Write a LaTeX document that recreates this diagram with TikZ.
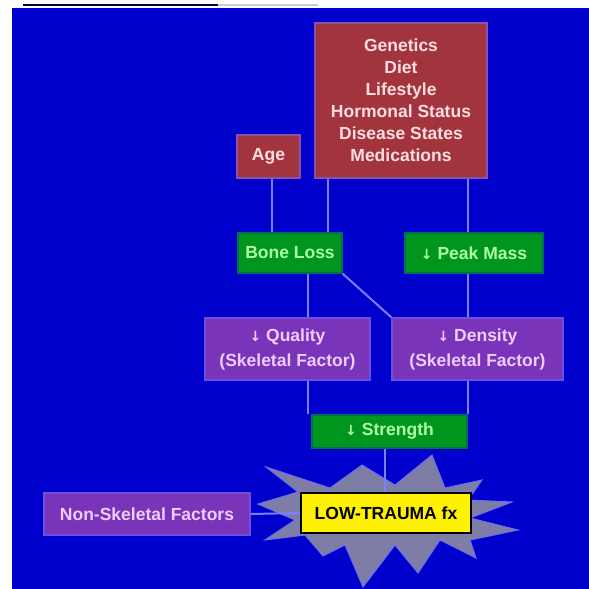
\documentclass[tikz,border=0pt]{standalone}
\usepackage{fontspec}
\setmainfont{Liberation Sans}
\newfontfamily\arrowfont{DejaVu Sans}
\usetikzlibrary{calc}
\definecolor{bgblue}{RGB}{0,0,204}
\definecolor{riskred}{RGB}{162,52,62}
\definecolor{riskedge}{RGB}{140,80,170}
\definecolor{risktext}{RGB}{255,222,225}
\definecolor{boxgreen}{RGB}{0,150,30}
\definecolor{greenedge}{RGB}{0,110,80}
\definecolor{greentext}{RGB}{175,255,165}
\definecolor{boxpurple}{RGB}{122,52,185}
\definecolor{purpleedge}{RGB}{105,80,225}
\definecolor{purpletext}{RGB}{238,205,255}
\definecolor{connblue}{RGB}{125,125,255}
\definecolor{stargray}{RGB}{125,125,165}
\definecolor{staredge}{RGB}{110,110,235}
\newcommand{\dn}{{\arrowfont\fontsize{14}{16}\selectfont ↓}}
\tikzset{
  base/.style={rectangle, inner sep=0pt, align=center, font=\bfseries\fontsize{17.5}{22}\selectfont},
  riskbox/.style={base, fill=riskred, draw=riskedge, line width=1.5pt, text=risktext},
  greenbox/.style={base, fill=boxgreen, draw=greenedge, line width=1.5pt, text=greentext},
  purplebox/.style={base, fill=boxpurple, draw=purpleedge, line width=1.5pt, text=purpletext},
  fxbox/.style={base, fill=yellow, draw=black, line width=2pt, text=black},
  conn/.style={draw=connblue, line width=2pt},
}
\begin{document}
\begin{tikzpicture}[x=1pt,y=-1pt]
\useasboundingbox (0,0) rectangle (589,589);
\fill[white] (0,0) rectangle (589,589);
\fill[bgblue] (12,8) rectangle (589,589);
\draw[black!70!blue, line width=2pt] (23,5) -- (218,5);
\draw[gray!40, line width=1.5pt] (218,5) -- (318,5);

% starburst
\filldraw[fill=stargray, draw=staredge, line width=1pt]
  (258,504) -- (298,492) -- (266,467) -- (330,488) -- (362,465) -- (395,485)
  -- (432,455) -- (445,488) -- (482,480) -- (468,500) -- (512,502) -- (470,518)
  -- (518,530) -- (470,540) -- (476,558) -- (440,540) -- (418,573) -- (395,545)
  -- (363,587) -- (345,545) -- (323,556) -- (305,535) -- (265,540) -- (295,520) -- cycle;

% nodes
\node[riskbox, minimum width=172pt, minimum height=155pt] (risk) at (401,100.5)
  {Genetics\\Diet\\Lifestyle\\Hormonal Status\\Disease States\\Medications};
\node[riskbox, minimum width=63pt, minimum height=43pt] (age) at (268.5,156.5) {Age};
\node[greenbox, minimum width=104pt, minimum height=40pt] (bone) at (290,253) {Bone Loss};
\node[greenbox, minimum width=138pt, minimum height=40pt] (peak) at (474,253) {\dn\ Peak Mass};
\node[purplebox, minimum width=165pt, minimum height=62pt, font=\bfseries\fontsize{17.5}{25}\selectfont] (quality) at (287.5,349)
  {\dn\ Quality\\(Skeletal Factor)};
\node[purplebox, minimum width=171pt, minimum height=62pt, font=\bfseries\fontsize{17.5}{25}\selectfont] (density) at (477.5,349)
  {\dn\ Density\\(Skeletal Factor)};
\node[greenbox, minimum width=155pt, minimum height=33pt] (strength) at (389.5,431.5) {\dn\ Strength};
\node[purplebox, minimum width=206pt, minimum height=42pt] (nonskel) at (147,514) {Non-Skeletal Factors};
\node[fxbox, minimum width=170pt, minimum height=40pt] (fx) at (386,513) {LOW-TRAUMA fx};

% helper x positions
\coordinate (xa) at (272,0);
\coordinate (xb) at (328,0);
\coordinate (xc) at (468,0);
\coordinate (xd) at (308,0);
\coordinate (xe) at (385,0);

% connectors
\begin{scope}[on background layer/.style={}]
\draw[conn] (age.south -| xa) -- (bone.north -| xa);
\draw[conn] (risk.south -| xb) -- (bone.north -| xb);
\draw[conn] (risk.south -| xc) -- (peak.north -| xc);
\draw[conn] (bone.south -| xd) -- (quality.north -| xd);
\draw[conn] (bone.south east) -- (density.north west);
\draw[conn] (peak.south -| xc) -- (density.north -| xc);
\draw[conn] (quality.south -| xd) -- (strength.north -| xd);
\draw[conn] (density.south -| xc) -- (strength.north -| xc);
\draw[conn] (strength.south -| xe) -- (fx.north -| xe);
\draw[conn] (nonskel.east) -- (fx.west);
\end{scope}
\end{tikzpicture}
\end{document}
